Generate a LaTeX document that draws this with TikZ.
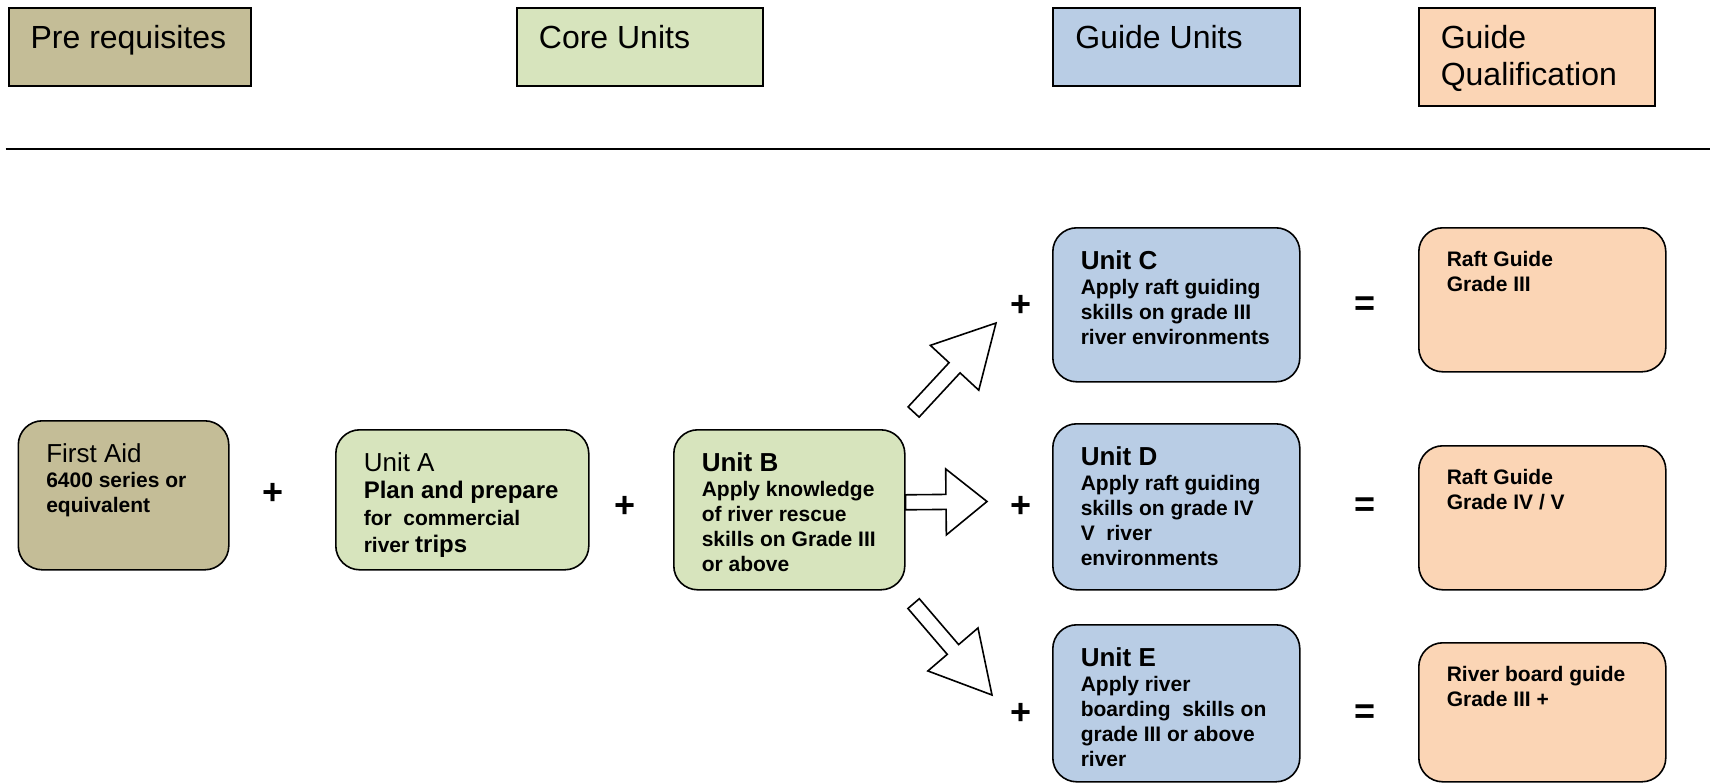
\documentclass[tikz,border=0pt]{standalone}
\usepackage{fontspec}
\setmainfont{Liberation Sans}
\usetikzlibrary{calc}

\definecolor{pretan}{HTML}{C4BD97}
\definecolor{coregreen}{HTML}{D7E4BD}
\definecolor{guideblue}{HTML}{B9CDE5}
\definecolor{qualpeach}{HTML}{FBD5B5}

\newcommand{\hfont}{\fontsize{16}{18.5}\selectfont}
\newcommand{\bfont}{\fontsize{10.5}{12.5}\selectfont\bfseries}
\newcommand{\tfont}{\fontsize{13}{13}\selectfont}
% top aligned text inside a box of given size
\newcommand{\htext}[3]{\parbox[c][#2][t]{#1}{\raggedright\leftskip=11pt\relax\vspace*{8.75pt}#3}}
\newcommand{\utext}[3]{\parbox[c][#2][t]{#1}{\raggedright\leftskip=14pt\relax\vspace*{11.5pt}#3}}
% hollow block arrow from tail to tip
\newcommand{\blockarrow}[3]{%
  \coordinate (hb) at ($(#2)!#3!(#1)$);
  \draw[blockarrow] ($(#1)!3.75pt!90:(#2)$) -- ($(hb)!3.75pt!90:(#2)$)
    -- ($(hb)!16.5pt!90:(#2)$) -- (#2) -- ($(hb)!16.5pt!-90:(#2)$)
    -- ($(hb)!3.75pt!-90:(#2)$) -- ($(#1)!3.75pt!-90:(#2)$) -- cycle;}

\begin{document}
\begin{tikzpicture}[x=0.5pt, y=-0.5pt,
  hbox/.style={draw, line width=1pt, inner sep=0pt, anchor=north west, font=\hfont},
  rbox/.style={draw, line width=0.8pt, rounded corners=12pt, inner sep=0pt, anchor=north west, font=\bfont},
  sign/.style={font=\fontsize{18}{18}\selectfont\bfseries, inner sep=0pt},
  blockarrow/.style={draw, line width=0.8pt, fill=white}]
  \useasboundingbox (0,0) rectangle (1710,783);

  % column headings
  \node[hbox, fill=pretan] (pre) at (7.6,6.5) {\htext{121pt}{39.25pt}{Pre requisites}};
  \node[hbox, fill=coregreen] (core) at (515.9,6.5) {\htext{123.2pt}{39.25pt}{Core Units}};
  \node[hbox, fill=guideblue] (guide) at (1052.4,6.5) {\htext{123.25pt}{39.25pt}{Guide Units}};
  \node[hbox, fill=qualpeach] (qual) at (1417.8,6.5) {\htext{118.3pt}{49.1pt}{Guide\\ Qualification}};
  \draw[line width=1pt] (5.5,149.4) -- (1710,149.4);

  % pre requisite and core units
  \node[rbox, fill=pretan] (aid) at (17.5,420)
    {\utext{105.25pt}{74.5pt}{{\tfont\mdseries First Aid}\\ 6400 series or\\ equivalent}};
  \node[rbox, fill=coregreen] (ua) at (335,429)
    {\utext{126.5pt}{70pt}{\fontsize{10.5}{13.5}\selectfont{\tfont\mdseries Unit A}\\
      {\fontsize{12}{13.5}\selectfont Plan and prepare}\\ for\ \ commercial\\
      river {\fontsize{12}{13.5}\selectfont trips}}};
  \node[rbox, fill=coregreen] (ub) at (673,429)
    {\utext{115.5pt}{80pt}{{\tfont Unit B}\\ Apply knowledge\\ of river rescue\\ skills on Grade III\\ or above}};

  % guide units
  \node[rbox, fill=guideblue] (uc) at (1052,227)
    {\utext{123.5pt}{77pt}{{\tfont Unit C}\\ Apply raft guiding\\ skills on grade III\\ river environments}};
  \node[rbox, fill=guideblue] (ud) at (1052,423)
    {\utext{123.5pt}{83pt}{{\tfont Unit D}\\ Apply raft guiding\\ skills on grade IV\\ V\ \ river\\ environments}};
  \node[rbox, fill=guideblue] (ue) at (1052,624)
    {\utext{123.5pt}{78.5pt}{{\tfont Unit E}\\ Apply river\\ boarding\ \ skills on\\ grade III or above\\ river}};

  % qualifications
  \node[rbox, fill=qualpeach] (q3) at (1418,227) {\utext{123.5pt}{72pt}{Raft Guide\\ Grade III}};
  \node[rbox, fill=qualpeach] (q45) at (1418,445) {\utext{123.5pt}{72pt}{Raft Guide\\ Grade IV / V}};
  \node[rbox, fill=qualpeach] (qrb) at (1418,642) {\utext{123.5pt}{69.5pt}{River board guide\\ Grade III +}};

  % plus and equals signs
  \node[sign] (p1) at (272.6,494) {+};
  \node[sign] (p2) at (625,507) {+};
  \node[sign] (pc) at (1021,306) {+};
  \node[sign] (pd) at (1021,507) {+};
  \node[sign] (pe) at (1021,714) {+};
  \node[sign] (e3) at (1365,306) {=};
  \node[sign] (e45) at (1365,507) {=};
  \node[sign] (erb) at (1365,714) {=};

  % block arrows out of unit B
  \coordinate (bR) at ($(ub.east)+(0,-7.5)$);
  \coordinate (bU) at ($(ub.north east)+(8,-17)$);
  \coordinate (bD) at ($(ub.south east)+(8,13)$);
  \coordinate (tR) at (987,501.5);
  \coordinate (tU) at (996,323);
  \coordinate (tD) at (992,695);
  \blockarrow{bR}{tR}{20.5pt}
  \blockarrow{bU}{tU}{30.5pt}
  \blockarrow{bD}{tD}{30pt}
\end{tikzpicture}
\end{document}
